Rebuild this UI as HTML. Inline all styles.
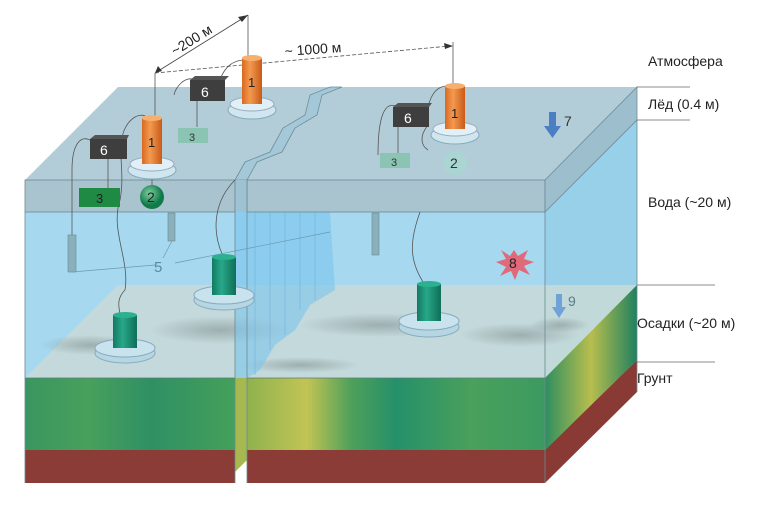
<!DOCTYPE html>
<html><head><meta charset="utf-8"><style>
html,body{margin:0;padding:0;background:#fff;}
svg{display:block;font-family:"Liberation Sans",sans-serif;}
</style></head><body>
<svg width="775" height="508" viewBox="0 0 775 508" xmlns="http://www.w3.org/2000/svg">
<defs>
<linearGradient id="sedL" x1="0" x2="1" y1="0" y2="0">
<stop offset="0" stop-color="#3a9660"/><stop offset="0.3" stop-color="#48a05c"/>
<stop offset="0.6" stop-color="#2f9064"/><stop offset="1" stop-color="#44a05a"/>
</linearGradient>
<linearGradient id="sedR" x1="0" x2="1" y1="0" y2="0">
<stop offset="0" stop-color="#8fb24e"/><stop offset="0.2" stop-color="#c2c454"/>
<stop offset="0.35" stop-color="#4ea05a"/><stop offset="0.5" stop-color="#25906a"/>
<stop offset="0.75" stop-color="#4aa05c"/><stop offset="1" stop-color="#3c9a60"/>
</linearGradient>
<linearGradient id="sedS" x1="0" x2="1"><stop offset="0" stop-color="#2f8e60"/><stop offset="0.5" stop-color="#b7be4e"/><stop offset="1" stop-color="#1f8060"/></linearGradient>
<radialGradient id="spot"><stop offset="0" stop-color="#7f8c8c" stop-opacity="0.55"/><stop offset="1" stop-color="#7f8c8c" stop-opacity="0"/></radialGradient>
<linearGradient id="cylO" x1="0" x2="1"><stop offset="0" stop-color="#d86a20"/><stop offset="0.4" stop-color="#f39a50"/><stop offset="1" stop-color="#c95a18"/></linearGradient>
<linearGradient id="cylG" x1="0" x2="1"><stop offset="0" stop-color="#127a62"/><stop offset="0.4" stop-color="#28a888"/><stop offset="1" stop-color="#0f6e58"/></linearGradient>
<radialGradient id="ball" cx="0.4" cy="0.35"><stop offset="0" stop-color="#7fd0a0"/><stop offset="1" stop-color="#107a4a"/></radialGradient>
</defs>

<!-- gap filler -->
<polygon points="235,378 247,366 247,460 235,472" fill="#a8b850"/>
<!-- ground -->
<rect x="25" y="450" width="210" height="33" fill="#8c3c36"/>
<rect x="247" y="450" width="298" height="33" fill="#8c3c36"/>
<polygon points="545,450 637,360 637,392 545,483" fill="#8a3a34"/>
<!-- sediment front -->
<rect x="25" y="378" width="210" height="72" fill="url(#sedL)"/>
<rect x="247" y="378" width="298" height="72" fill="url(#sedR)"/>
<polygon points="545,378 637,285 637,360 545,450" fill="url(#sedS)"/>
<!-- water -->
<rect x="25" y="212" width="520" height="166" fill="#a6d8ef"/>
<polygon points="545,212 637,120 637,285 545,378" fill="#98cfe9"/>
<!-- sediment top (seen through water) -->
<polygon points="25,378 118,285 637,285 545,378" fill="#c4d9d9" fill-opacity="0.95"/>
<ellipse cx="220" cy="330" rx="70" ry="14" fill="url(#spot)"/>
<ellipse cx="380" cy="325" rx="80" ry="12" fill="url(#spot)"/>
<ellipse cx="520" cy="335" rx="60" ry="12" fill="url(#spot)"/>
<ellipse cx="90" cy="345" rx="50" ry="10" fill="url(#spot)"/>
<ellipse cx="300" cy="365" rx="60" ry="8" fill="url(#spot)"/>
<ellipse cx="560" cy="325" rx="30" ry="8" fill="url(#spot)"/>
<polygon points="545,378 637,285 637,360 545,450" fill="url(#sedS)"/>
<!-- crack curtain -->
<polygon points="235,212 330,212 335,290 310,305 295,330 275,345 260,370 247,378 235,378" fill="#7cc4ec" fill-opacity="0.6"/>
<g stroke="#7ab8da" stroke-width="0.8"><line x1="255" y1="212" x2="255" y2="375"/><line x1="270" y1="212" x2="270" y2="350"/><line x1="285" y1="212" x2="285" y2="335"/><line x1="300" y1="212" x2="300" y2="310"/><line x1="315" y1="212" x2="315" y2="300"/></g>
<line x1="25" y1="378" x2="235" y2="378" stroke="#5a7a78" stroke-width="0.8"/>
<line x1="247" y1="378" x2="545" y2="378" stroke="#5a7a78" stroke-width="0.8"/>
<line x1="25" y1="212" x2="25" y2="483" stroke="#6a8a90" stroke-width="0.8"/>
<!-- ice -->
<polygon points="25,180 118,87 330,87 310,95 305,115 283,128 270,152 245,162 235,180" fill="#b3cdd8"/>
<polygon points="247,180 257,162 282,152 295,128 317,115 322,95 342,87 637,87 545,180" fill="#b3cdd8"/>
<polygon points="235,180 245,162 270,152 283,128 305,115 310,95 330,87 342,87 322,95 317,115 295,128 282,152 257,162 247,180" fill="#a4c8d8" stroke="#6b8e9c" stroke-width="0.8"/>
<rect x="25" y="180" width="210" height="32" fill="#a9c4cf" stroke="#6b8a96" stroke-width="0.8"/>
<rect x="247" y="180" width="298" height="32" fill="#a9c4cf" stroke="#6b8a96" stroke-width="0.8"/>
<rect x="235" y="180" width="12" height="32" fill="#9ec2d2"/>
<polygon points="545,180 637,87 637,120 545,212" fill="#9dbfcd" stroke="#6b8a96" stroke-width="0.8"/>
<line x1="545" y1="212" x2="545" y2="483" stroke="#6a8a90" stroke-width="0.8"/>
<line x1="637" y1="120" x2="637" y2="392" stroke="#6a8a90" stroke-width="0.8"/>
<line x1="235" y1="180" x2="235" y2="483" stroke="#6a8a90" stroke-width="0.8"/>
<line x1="247" y1="180" x2="247" y2="483" stroke="#6a8a90" stroke-width="0.8"/>

<!-- labels & lines right -->
<g stroke="#666" stroke-width="0.8"><line x1="637" y1="87" x2="690" y2="87"/><line x1="637" y1="120" x2="690" y2="120"/><line x1="637" y1="285" x2="715" y2="285"/><line x1="637" y1="362" x2="715" y2="362"/></g>
<g font-size="14" fill="#222"><text x="648" y="66">Атмосфера</text><text x="648" y="109">Лёд (0.4 м)</text><text x="648" y="207">Вода (~20 м)</text><text x="637" y="328">Осадки (~20 м)</text><text x="637" y="383">Грунт</text></g>

<!-- wires -->
<g fill="none" stroke="#555" stroke-width="0.8">
<path d="M90,140 C80,135 72,145 72,170 L72,236"/>
<path d="M122,140 C118,150 125,175 120,200 C110,230 130,260 125,290 C115,300 120,310 120,315"/>
<path d="M195,80 C185,75 175,88 174,95"/>
<path d="M220,80 C225,65 235,60 245,60"/>
<path d="M122,138 C125,120 140,110 148,118"/>
<path d="M398,107 C385,100 378,115 378,155"/>
<path d="M428,107 C432,90 440,85 450,86"/>
<path d="M428,125 C420,135 420,145 428,150"/>
<path d="M420,212 C410,240 408,260 425,285"/>
<path d="M235,180 C215,200 210,230 224,258"/>
<line x1="155" y1="73" x2="155" y2="120"/><line x1="248" y1="15" x2="248" y2="58"/><line x1="453" y1="42" x2="453" y2="86"/>
<line x1="108" y1="158" x2="108" y2="188"/><line x1="197" y1="100" x2="197" y2="127"/><line x1="398" y1="127" x2="398" y2="153"/>
<line x1="152" y1="168" x2="152" y2="196"/>
</g>
<!-- dimension lines -->
<line x1="155" y1="73" x2="248" y2="15" stroke="#444" stroke-width="0.8"/>
<polygon points="248,15 238,17 242,22" fill="#333"/><polygon points="155,73 158,66 162,71" fill="#333"/>
<line x1="155" y1="73" x2="450" y2="46" stroke="#555" stroke-width="0.8" stroke-dasharray="4,2"/>
<polygon points="453,46 444,43 445,49" fill="#333"/>
<text x="0" y="0" font-size="14" fill="#222" transform="translate(175,56) rotate(-32)">~200 м</text>
<text x="285" y="56" font-size="14" fill="#222" transform="rotate(-4 285 56)">~ 1000 м</text>

<!-- ice devices -->
<g>
<ellipse cx="152" cy="170" rx="24" ry="9" fill="#cfe6f0" stroke="#8aaab8"/><ellipse cx="152" cy="164" rx="22" ry="7" fill="#e0f0f6" stroke="#9ab"/>
<rect x="142" y="118" width="20" height="46" fill="url(#cylO)"/><ellipse cx="152" cy="118" rx="10" ry="3" fill="#f5b070"/><text x="148" y="147" font-size="13" fill="#222">1</text>
<ellipse cx="252" cy="110" rx="24" ry="9" fill="#cfe6f0" stroke="#8aaab8"/><ellipse cx="252" cy="104" rx="22" ry="7" fill="#e0f0f6" stroke="#9ab"/>
<rect x="242" y="58" width="20" height="46" fill="url(#cylO)"/><ellipse cx="252" cy="58" rx="10" ry="3" fill="#f5b070"/><text x="248" y="87" font-size="13" fill="#222">1</text>
<ellipse cx="455" cy="135" rx="24" ry="9" fill="#cfe6f0" stroke="#8aaab8"/><ellipse cx="455" cy="129" rx="22" ry="7" fill="#e0f0f6" stroke="#9ab"/>
<rect x="445" y="86" width="20" height="43" fill="url(#cylO)"/><ellipse cx="455" cy="86" rx="10" ry="3" fill="#f5b070"/><text x="451" y="118" font-size="13" fill="#222">1</text>
<rect x="90" y="139" width="37" height="20" fill="#3e3e3e"/><polygon points="90,139 95,135 129,135 127,139" fill="#555"/><text x="100" y="155" font-size="14" fill="#fff">6</text>
<rect x="190" y="80" width="35" height="21" fill="#3e3e3e"/><polygon points="190,80 195,76 229,76 225,80" fill="#555"/><text x="201" y="97" font-size="14" fill="#fff">6</text>
<rect x="393" y="107" width="36" height="20" fill="#3e3e3e"/><polygon points="393,107 398,103 432,103 429,107" fill="#555"/><text x="404" y="123" font-size="14" fill="#fff">6</text>
<rect x="79" y="188" width="41" height="19" fill="#1f8a44"/><text x="96" y="203" font-size="13" fill="#222">3</text>
<rect x="178" y="128" width="30" height="15" fill="#8cc4b4"/><text x="189" y="141" font-size="11" fill="#333">3</text>
<rect x="380" y="153" width="30" height="15" fill="#8cc4b4"/><text x="391" y="166" font-size="11" fill="#333">3</text>
<circle cx="152" cy="197" r="12" fill="url(#ball)"/><text x="147" y="202" font-size="14" fill="#222">2</text>
<circle cx="455" cy="163" r="12" fill="#a9d6d2"/><text x="450" y="168" font-size="14" fill="#333">2</text>
</g>
<!-- water rods -->
<rect x="68" y="235" width="8" height="37" fill="#8ab0bc" stroke="#6a8a96" stroke-width="0.6"/>
<rect x="168" y="213" width="7" height="28" fill="#8ab0bc" stroke="#6a8a96" stroke-width="0.6"/>
<rect x="372" y="213" width="7" height="42" fill="#8ab0bc" stroke="#6a8a96" stroke-width="0.6"/>
<g stroke="#6a9ab0" stroke-width="0.7" fill="none"><line x1="72" y1="272" x2="155" y2="265"/><line x1="172" y1="241" x2="163" y2="258"/><line x1="175" y1="263" x2="330" y2="232"/></g>
<text x="154" y="272" font-size="15" fill="#5a8aa4">5</text>
<!-- sediment devices -->
<g>
<ellipse cx="125" cy="353" rx="30" ry="10" fill="#b6d6e4" stroke="#8ab"/><ellipse cx="125" cy="348" rx="30" ry="9" fill="#c8e2ee" stroke="#8ab"/>
<rect x="113" y="315" width="24" height="33" fill="url(#cylG)"/><ellipse cx="125" cy="315" rx="12" ry="3" fill="#2bb090"/>
<ellipse cx="224" cy="300" rx="30" ry="10" fill="#b6d6e4" stroke="#8ab"/><ellipse cx="224" cy="295" rx="30" ry="9" fill="#c8e2ee" stroke="#8ab"/>
<rect x="212" y="257" width="24" height="38" fill="url(#cylG)"/><ellipse cx="224" cy="257" rx="12" ry="3" fill="#2bb090"/>
<ellipse cx="429" cy="327" rx="30" ry="10" fill="#b6d6e4" stroke="#8ab"/><ellipse cx="429" cy="321" rx="30" ry="9" fill="#c8e2ee" stroke="#8ab"/>
<rect x="417" y="284" width="24" height="37" fill="url(#cylG)"/><ellipse cx="429" cy="284" rx="12" ry="3" fill="#2bb090"/>
</g>
<!-- starburst 8 -->
<polygon points="514,250 518,256 528,250 524,259 534,262 524,266 530,275 519,270 515,280 511,271 500,276 506,267 496,262 506,259 501,250 510,256" fill="#e06a7a"/>
<text x="509" y="268" font-size="14" fill="#222">8</text>
<!-- arrows 7, 9 -->
<polygon points="549,112 556,112 556,126 561,126 552.5,138 544,126 549,126" fill="#4a7fc4"/>
<text x="564" y="126" font-size="14" fill="#333">7</text>
<polygon points="556,294 562,294 562,307 566,307 559,318 552,307 556,307" fill="#6fa2d8"/>
<text x="568" y="306" font-size="14" fill="#5a7a8a">9</text>
</svg>
</body></html>
